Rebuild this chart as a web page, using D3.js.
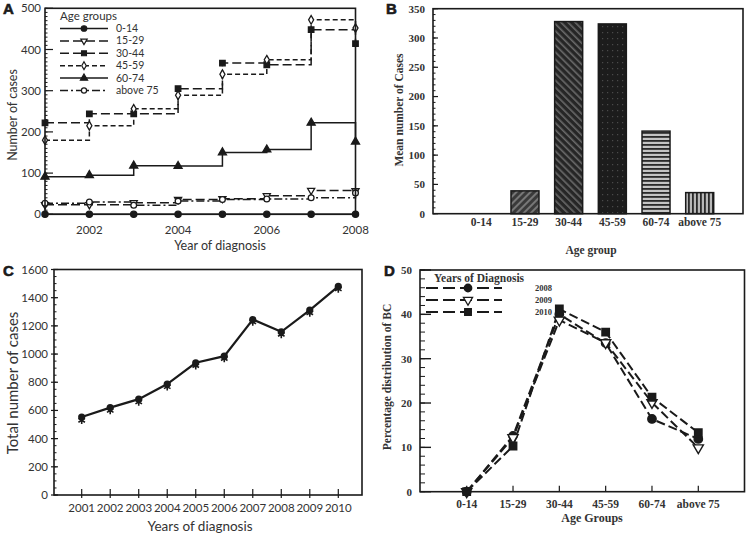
<!DOCTYPE html>
<html><head><meta charset="utf-8">
<script src="https://cdn.jsdelivr.net/npm/d3@7"></script>
<style>body{margin:0;background:#fff}</style>
</head><body><svg id="c" width="747" height="536"></svg>
<script>
// ---------- DATA ----------
const yearsA = [2001,2002,2003,2004,2005,2006,2007,2008];
const ageGroups = ["0-14","15-29","30-44","45-59","60-74","above 75"];
const casesA_0_14   = [0,0,0,0,0,0,0,0];
const casesA_15_29  = [23,23,28,36,38,45,58,57];
const casesA_30_44  = [222,244,244,305,367,363,448,414];
const casesA_45_59  = [180,215,256,289,340,375,472,452];
const casesA_60_74  = [91,95,118,117,150,157,222,176];
const casesA_above75= [27,30,22,32,36,37,40,52];
const ticksA_y = [0,100,200,300,400,500];
const ticksA_x = [2002,2004,2006,2008];

const meanCasesB = [0,39,328,324,141,36];
const ticksB_y = [0,50,100,150,200,250,300,350];

const yearsC = [2001,2002,2003,2004,2005,2006,2007,2008,2009,2010];
const totalC_circle = [553,620,680,787,938,985,1245,1158,1312,1480];
const totalC_star   = [530,600,660,768,918,968,1228,1140,1292,1462];
const ticksC_y = [0,200,400,600,800,1000,1200,1400,1600];

const yearsD = ["2008","2009","2010"];
const pctD_2008 = [0,12.6,40.0,33.5,16.4,11.9];
const pctD_2009 = [0,12.2,38.7,33.6,20.1,9.9];
const pctD_2010 = [0,10.3,41.2,36.0,21.3,13.3];
const ticksD_y = [0,10,20,30,40,50];

// ---------- SETUP ----------
const svg = d3.select("#c");
const SANS = "Lato, 'Open Sans', sans-serif";
const SERIF = "'Liberation Serif', 'DejaVu Serif', serif";
const INK = "#1a1a1a";

function panelLetter(t,x,y){
  svg.append("text").attr("x",x).attr("y",y).text(t)
    .attr("font-family","'Liberation Sans', Arial, sans-serif").attr("font-weight","900")
    .attr("font-size",15).attr("fill",INK).attr("stroke",INK).attr("stroke-width",0.6);
}
function frame(x0,y0,x1,y1){
  svg.append("rect").attr("x",x0).attr("y",y0).attr("width",x1-x0).attr("height",y1-y0)
    .attr("fill","none").attr("stroke",INK).attr("stroke-width",1.6);
}

// ================= PANEL A =================
(function(){
  const L=45,R=355.5,T=8.3,B=214.3;
  const x=d3.scaleLinear().domain([2001,2008]).range([L,R]);
  const y=d3.scaleLinear().domain([0,500]).range([B,T]);
  const g=svg.append("g");
  g.selectAll(".mn").data(d3.range(0,501,10)).join("line")
    .attr("x1",L).attr("x2",L+2.5).attr("y1",d=>y(d)).attr("y2",d=>y(d)).attr("stroke",INK).attr("stroke-width",1);
  g.selectAll(".mj").data(ticksA_y).join("line")
    .attr("x1",L).attr("x2",L+8).attr("y1",d=>y(d)).attr("y2",d=>y(d)).attr("stroke",INK).attr("stroke-width",1.2);
  g.selectAll(".yl").data(ticksA_y).join("text").attr("x",L-4).attr("y",d=>y(d)).attr("dy","0.35em")
    .attr("text-anchor","end").attr("font-family",SANS).attr("font-size",11.5).attr("fill","#333").text(d=>d);
  g.selectAll(".xl").data(ticksA_x).join("text").attr("x",d=>x(d)).attr("y",234)
    .attr("text-anchor","middle").attr("font-family",SANS).attr("font-size",11.5).attr("fill","#333").text(d=>d);
  g.append("text").attr("x",220).attr("y",249.5).attr("text-anchor","middle").attr("font-family",SANS)
    .attr("font-size",12.5).attr("fill","#333").text("Year of diagnosis");
  g.append("text").attr("transform","translate(17,115) rotate(-90)").attr("text-anchor","middle")
    .attr("font-family",SANS).attr("font-size",12.5).attr("fill","#333").text("Number of cases");

  const series=[
    {v:casesA_0_14, dash:null, type:d3.symbolCircle, size:30, fill:INK, rot:0},
    {v:casesA_15_29, dash:"9,4", type:d3.symbolTriangle, size:22, fill:"#fff", rot:180},
    {v:casesA_30_44, dash:"9,4", type:d3.symbolSquare, size:30, fill:INK, rot:0},
    {v:casesA_45_59, dash:"5,3", type:d3.symbolDiamond, size:22, fill:"#fff", rot:0},
    {v:casesA_60_74, dash:null, type:d3.symbolTriangle, size:28, fill:INK, rot:0},
    {v:casesA_above75, dash:"8,3,2,3", type:d3.symbolCircle, size:26, fill:"#fff", rot:0}
  ];
  const line=d3.line().x((d,i)=>x(yearsA[i])).y(d=>y(d)).curve(d3.curveStepAfter);
  series.forEach(s=>{
    g.append("path").attr("d",line(s.v)).attr("fill","none").attr("stroke",INK)
      .attr("stroke-width",1.5).attr("stroke-dasharray",s.dash);
  });
  series.forEach(s=>{
    g.selectAll(null).data(s.v).join("path")
      .attr("d",d3.symbol().type(s.type).size(s.size)())
      .attr("transform",(d,i)=>`translate(${x(yearsA[i])},${y(d)}) rotate(${s.rot})`)
      .attr("fill",s.fill).attr("stroke",INK).attr("stroke-width",1.3);
  });
  frame(L,T,R,B);
  // legend
  g.append("text").attr("x",60).attr("y",20).attr("font-family",SANS).attr("font-size",11.5)
    .attr("fill","#333").text("Age groups");
  series.forEach((s,i)=>{
    const yy=28.5+i*12.4;
    g.append("line").attr("x1",60).attr("x2",108).attr("y1",yy).attr("y2",yy).attr("stroke",INK)
      .attr("stroke-width",1.5).attr("stroke-dasharray",s.dash);
    g.append("path").attr("d",d3.symbol().type(s.type).size(s.size*0.8)())
      .attr("transform",`translate(84,${yy}) rotate(${s.rot})`).attr("fill",s.fill).attr("stroke",INK).attr("stroke-width",1.2);
    g.append("text").attr("x",116).attr("y",yy).attr("dy","0.33em").attr("font-family",SANS)
      .attr("font-size",10.5).attr("fill","#333").text(ageGroups[i]);
  });
})();
panelLetter("A",3,14);

// ================= PANEL B =================
(function(){
  const L=433,R=743,T=8.7,B=213.7;
  const x=d3.scalePoint().domain(ageGroups).range([481.3,699.7]);
  const y=d3.scaleLinear().domain([0,350]).range([B,T]);
  const g=svg.append("g");
  const defs=svg.append("defs");
  let p=defs.append("pattern").attr("id","pB1").attr("patternUnits","userSpaceOnUse").attr("width",5).attr("height",5)
    .attr("patternTransform","rotate(45)");
  p.append("rect").attr("width",5).attr("height",5).attr("fill","#3a3a3a");
  p.append("rect").attr("width",2).attr("height",5).attr("fill","#777");
  p=defs.append("pattern").attr("id","pB2").attr("patternUnits","userSpaceOnUse").attr("width",5).attr("height",5)
    .attr("patternTransform","rotate(-45)");
  p.append("rect").attr("width",5).attr("height",5).attr("fill","#262626");
  p.append("rect").attr("width",1.6).attr("height",5).attr("fill","#6a6a6a");
  p=defs.append("pattern").attr("id","pB3").attr("patternUnits","userSpaceOnUse").attr("width",5).attr("height",6);
  p.append("rect").attr("width",5).attr("height",6).attr("fill","#1c1c1c");
  p.append("rect").attr("x",2).attr("y",2).attr("width",1.2).attr("height",1.2).attr("fill","#4a4a4a");
  p=defs.append("pattern").attr("id","pB4").attr("patternUnits","userSpaceOnUse").attr("width",4).attr("height",4);
  p.append("rect").attr("width",4).attr("height",4).attr("fill","#c4c4c4");
  p.append("rect").attr("width",4).attr("height",1.8).attr("fill","#2a2a2a");
  p=defs.append("pattern").attr("id","pB5").attr("patternUnits","userSpaceOnUse").attr("width",4).attr("height",4);
  p.append("rect").attr("width",4).attr("height",4).attr("fill","#b8b8b8");
  p.append("rect").attr("width",1.8).attr("height",4).attr("fill","#2a2a2a");
  const fills=["none","url(#pB1)","url(#pB2)","url(#pB3)","url(#pB4)","url(#pB5)"];

  g.selectAll(".mn").data(d3.range(0,351,10)).join("line")
    .attr("x1",L).attr("x2",L+2.5).attr("y1",d=>y(d)).attr("y2",d=>y(d)).attr("stroke",INK).attr("stroke-width",1);
  g.selectAll(".mj").data(ticksB_y).join("line")
    .attr("x1",L).attr("x2",L+5).attr("y1",d=>y(d)).attr("y2",d=>y(d)).attr("stroke",INK).attr("stroke-width",1.2);
  g.selectAll(".yl").data(ticksB_y).join("text").attr("x",L-8).attr("y",d=>y(d)).attr("dy","0.35em")
    .attr("text-anchor","end").attr("font-family",SERIF).attr("font-weight","bold").attr("font-size",11).attr("fill","#333").text(d=>d);
  const bw=28;
  g.selectAll(".bar").data(meanCasesB.map((v,i)=>({v,i}))).join("rect").filter(d=>d.v>0)
    .attr("x",d=>x(ageGroups[d.i])-bw/2).attr("width",bw)
    .attr("y",d=>y(d.v)).attr("height",d=>y(0)-y(d.v))
    .attr("fill",d=>fills[d.i]).attr("stroke",INK).attr("stroke-width",1.5);
  g.selectAll(".xl").data(ageGroups).join("text").attr("x",d=>x(d)).attr("y",226)
    .attr("text-anchor","middle").attr("font-family",SERIF).attr("font-weight","bold").attr("font-size",11.5).attr("fill","#333").text(d=>d);
  g.append("text").attr("x",591).attr("y",254).attr("text-anchor","middle").attr("font-family",SERIF)
    .attr("font-weight","bold").attr("font-size",11.5).attr("fill","#333").text("Age group");
  g.append("text").attr("transform","translate(403,110) rotate(-90)").attr("text-anchor","middle")
    .attr("font-family",SERIF).attr("font-weight","bold").attr("font-size",11.5).attr("fill","#333").text("Mean number of Cases");
  frame(L,T,R,B);
})();
panelLetter("B",386,14);

// ================= PANEL C =================
(function(){
  const L=54,R=362,T=269.5,B=495;
  const x=d3.scaleLinear().domain([2001,2010]).range([81.7,338.3]);
  const y=d3.scaleLinear().domain([0,1600]).range([B,T]);
  const g=svg.append("g");
  g.selectAll(".mn").data(d3.range(0,1601,50)).join("line")
    .attr("x1",L).attr("x2",L+2.5).attr("y1",d=>y(d)).attr("y2",d=>y(d)).attr("stroke",INK).attr("stroke-width",1);
  g.selectAll(".mj").data(ticksC_y).join("line")
    .attr("x1",L-3).attr("x2",L+4).attr("y1",d=>y(d)).attr("y2",d=>y(d)).attr("stroke",INK).attr("stroke-width",1.2);
  g.selectAll(".xt").data(yearsC).join("line")
    .attr("x1",d=>x(d)).attr("x2",d=>x(d)).attr("y1",B-6).attr("y2",B+3).attr("stroke",INK).attr("stroke-width",1.2);
  g.selectAll(".yl").data(ticksC_y).join("text").attr("x",L-6).attr("y",d=>y(d)).attr("dy","0.35em")
    .attr("text-anchor","end").attr("font-family",SANS).attr("font-size",11.5).attr("fill","#333").text(d=>d);
  g.selectAll(".xl").data(yearsC).join("text").attr("x",d=>x(d)).attr("y",512)
    .attr("text-anchor","middle").attr("font-family",SANS).attr("font-size",11.5).attr("fill","#333").text(d=>d);
  g.append("text").attr("x",200).attr("y",531).attr("text-anchor","middle").attr("font-family",SANS)
    .attr("font-size",13.5).attr("fill","#333").text("Years of diagnosis");
  g.append("text").attr("transform","translate(18,383) rotate(-90)").attr("text-anchor","middle")
    .attr("font-family",SANS).attr("font-size",15).attr("fill","#333").text("Total number of cases");
  const line=d3.line().x((d,i)=>x(yearsC[i])).y(d=>y(d));
  g.append("path").attr("d",line(totalC_circle)).attr("fill","none").attr("stroke",INK).attr("stroke-width",2.2);
  g.selectAll(".st").data(totalC_star).join("path")
    .attr("d",d3.symbol().type(d3.symbolAsterisk||d3.symbolCross).size(40)())
    .attr("transform",(d,i)=>`translate(${x(yearsC[i])},${y(d)})`).attr("fill",INK).attr("stroke",INK).attr("stroke-width",1.6);
  g.selectAll(".ci").data(totalC_circle).join("circle")
    .attr("cx",(d,i)=>x(yearsC[i])).attr("cy",d=>y(d)).attr("r",3.6).attr("fill",INK);
  frame(L,T,R,B);
})();
panelLetter("C",3,276);

// ================= PANEL D =================
(function(){
  const L=420,R=744.5,T=270,B=491.7;
  const x=d3.scalePoint().domain(ageGroups).range([466.7,698.3]);
  const y=d3.scaleLinear().domain([0,50]).range([B,T]);
  const g=svg.append("g");
  g.selectAll(".mn").data(d3.range(0,50.1,2)).join("line")
    .attr("x1",L).attr("x2",L+5).attr("y1",d=>y(d)).attr("y2",d=>y(d)).attr("stroke",INK).attr("stroke-width",1);
  g.selectAll(".mj").data(ticksD_y).join("line")
    .attr("x1",L).attr("x2",L+11).attr("y1",d=>y(d)).attr("y2",d=>y(d)).attr("stroke",INK).attr("stroke-width",1.4);
  g.selectAll(".xt").data(ageGroups).join("line")
    .attr("x1",d=>x(d)).attr("x2",d=>x(d)).attr("y1",B).attr("y2",B-6).attr("stroke",INK).attr("stroke-width",1.2);
  g.selectAll(".yl").data(ticksD_y).join("text").attr("x",L-8).attr("y",d=>y(d)).attr("dy","0.35em")
    .attr("text-anchor","end").attr("font-family",SERIF).attr("font-weight","bold").attr("font-size",11).attr("fill","#333").text(d=>d);
  g.selectAll(".xl").data(ageGroups).join("text").attr("x",d=>x(d)).attr("y",508)
    .attr("text-anchor","middle").attr("font-family",SERIF).attr("font-weight","bold").attr("font-size",11.5).attr("fill","#333").text(d=>d);
  g.append("text").attr("x",592).attr("y",522).attr("text-anchor","middle").attr("font-family",SERIF)
    .attr("font-weight","bold").attr("font-size",12).attr("fill","#333").text("Age Groups");
  g.append("text").attr("transform","translate(391,377) rotate(-90)").attr("text-anchor","middle")
    .attr("font-family",SERIF).attr("font-weight","bold").attr("font-size",11.5).attr("fill","#333").text("Percentage distribution of BC");
  const series=[
    {v:pctD_2008,type:d3.symbolCircle,size:55,fill:INK,rot:0},
    {v:pctD_2009,type:d3.symbolTriangle,size:45,fill:"#fff",rot:180},
    {v:pctD_2010,type:d3.symbolSquare,size:55,fill:INK,rot:0}
  ];
  const line=d3.line().x((d,i)=>x(ageGroups[i])).y(d=>y(d));
  series.forEach(s=>{
    g.append("path").attr("d",line(s.v)).attr("fill","none").attr("stroke",INK)
      .attr("stroke-width",2).attr("stroke-dasharray","9,4");
  });
  series.forEach(s=>{
    g.selectAll(null).data(s.v).join("path").attr("d",d3.symbol().type(s.type).size(s.size)())
      .attr("transform",(d,i)=>`translate(${x(ageGroups[i])},${y(d)}) rotate(${s.rot})`)
      .attr("fill",s.fill).attr("stroke",INK).attr("stroke-width",1.4);
  });
  frame(L,T,R,B);
  g.append("text").attr("x",434).attr("y",282).attr("font-family",SERIF).attr("font-weight","bold")
    .attr("font-size",11.5).attr("fill","#333").text("Years of Diagnosis");
  series.forEach((s,i)=>{
    const yy=288+i*12;
    g.append("line").attr("x1",426).attr("x2",502).attr("y1",yy).attr("y2",yy).attr("stroke",INK)
      .attr("stroke-width",2).attr("stroke-dasharray","12,5");
    g.append("path").attr("d",d3.symbol().type(s.type).size(s.size*0.8)())
      .attr("transform",`translate(468,${yy}) rotate(${s.rot})`).attr("fill",s.fill).attr("stroke",INK).attr("stroke-width",1.3);
    g.append("text").attr("x",535).attr("y",yy).attr("dy","0.35em").attr("font-family",SERIF).attr("font-weight","bold")
      .attr("font-size",8.5).attr("fill","#333").text(yearsD[i]);
  });
})();
panelLetter("D",384,276);
</script></body></html>
